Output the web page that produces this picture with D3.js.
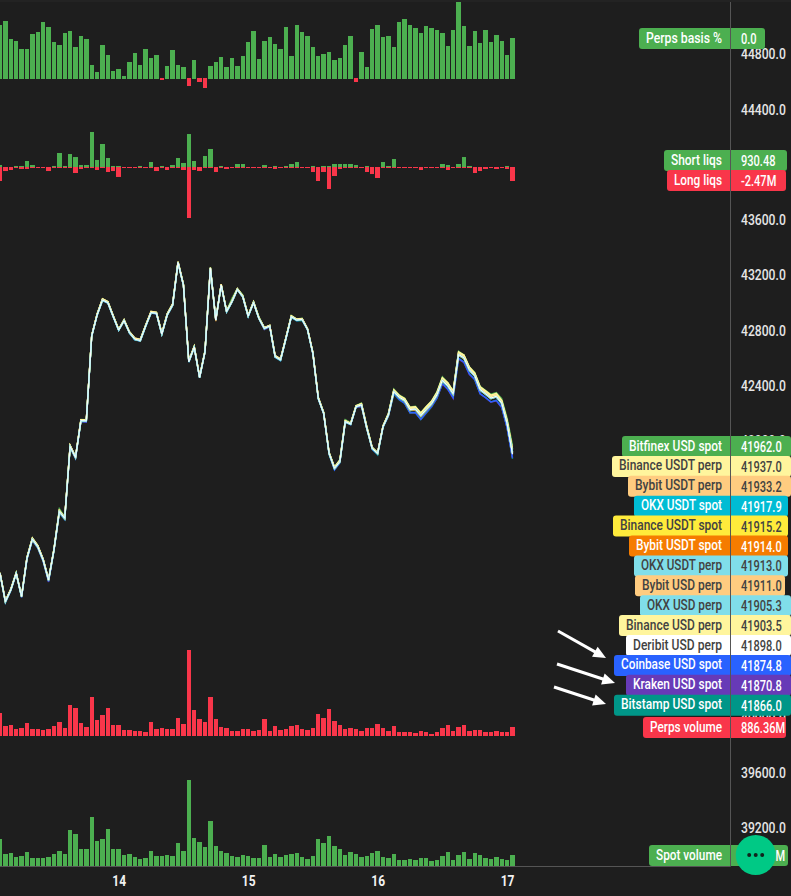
<!DOCTYPE html>
<html>
<head>
<meta charset="utf-8">
<script src="https://cdn.jsdelivr.net/npm/d3@7"></script>
<style>
  html, body { margin: 0; padding: 0; background: #1e1e1e; overflow: hidden; }
  svg { display: block; }
  text { font-family: Roboto, sans-serif; font-weight: 500; }
</style>
</head>
<body>
<div id="chart"></div>
<script>
// hourly bars, first one is 13 Dec 02:00
var hoursCount = 96;
var dayTicks = [14, 15, 16, 17];
// the other round prices sit fully behind the legend pills
var priceTicks = [39200, 39600, 40000, 42000, 42400, 42800, 43200, 43600, 44400, 44800];

// perps basis, thousandths of a percent
var basis = [54,58,40,38,30,30,45,47,57,52,37,34,
  46,48,32,43,40,14,7,34,24,8,10,3,
  17,26,14,30,21,24,-2,13,29,14,12,-8,
  19,-4,-10,13,17,22,12,21,13,23,37,48,
  20,38,42,35,30,52,23,54,47,43,32,23,
  25,27,19,21,34,43,-4,27,12,50,54,42,
  43,32,57,60,54,51,46,53,51,49,46,33,
  49,77,53,33,48,36,49,37,44,38,24,41];

// liquidations, millions
var shortLiqs = [.35,0,0,.18,.18,1.06,.35,0,0,0,.18,2.47,
  .18,2.29,1.76,.35,.35,6.18,1.24,4.06,1.59,.18,.18,0,
  0,0,.18,0,.88,0,.18,0,.35,1.59,.71,5.82,
  1.06,0,1.94,3.18,0,.18,0,0,.53,.53,0,0,
  0,.35,0,.18,0,.18,.53,.88,0,0,.18,0,
  .18,.18,.53,.53,.53,.53,.35,0,.18,0,0,.88,
  .18,1.41,0,0,0,0,0,0,0,0,.53,.35,
  0,.53,1.76,.18,0,0,0,0,0,0,.18,.00093];
var longLiqs = [2.47,.71,.53,.18,.35,.35,.18,.18,.18,.71,.18,.18,
  .18,.18,1.06,.35,.18,.18,.53,.18,.88,.71,1.76,.18,
  .18,.18,.18,.18,.18,.71,.18,.53,.18,.18,.53,9,
  .53,.71,.18,.18,.88,.18,.35,.18,.18,.18,.18,.18,
  .18,.18,.18,.35,.18,.18,.18,.18,.18,.18,.88,2.47,
  .88,3.88,1.59,.35,.18,.18,.18,.18,.88,1.24,1.94,.18,
  .18,.18,.18,.18,.18,.18,.53,.18,.18,.18,.18,.53,
  .18,.18,.18,.18,1.06,.71,.35,.18,.35,.18,.35,2.47];

// volumes, millions
var perpsVolume = [2266,985,1084,690,788,1281,690,690,591,690,985,1379,
  788,3054,2758,1281,886,3842,1576,2069,2758,1084,1084,591,
  591,493,493,394,1379,690,788,690,690,1773,1182,8471,
  2561,1675,1379,3842,1675,886,788,493,493,690,690,493,
  591,1675,493,985,591,690,985,1084,690,591,788,2167,
  1773,2660,1478,1084,690,788,690,493,788,788,1182,788,
  493,985,394,394,394,296,493,394,197,394,788,1084,
  493,886,1084,493,591,591,394,394,493,394,394,886];
var spotVolume = [1575,700,759,525,584,817,467,467,467,525,700,875,
  700,2101,1867,992,992,2859,1459,1575,2159,992,992,642,
  700,525,408,467,875,584,584,642,584,1342,875,5018,
  1634,1400,1109,2626,1167,875,759,584,525,642,584,467,
  467,1225,525,700,525,642,700,759,525,408,584,1575,
  1342,1751,1167,992,642,817,700,525,584,759,875,525,
  467,700,350,350,408,350,467,467,292,350,584,817,
  350,642,817,408,759,642,467,408,525,408,350,642];

// middle of the bundle of price lines
var priceMid = [41036,40831,40916,41036,40868,41145,41283,41229,41133,40988,41205,41483,
  41435,41954,41876,42142,42140,42755,42907,43015,42996,42895,42798,42866,
  42779,42731,42721,42827,42924,42919,42769,42907,42979,43286,43124,42569,
  42673,42455,42641,43244,42870,43124,42931,43003,43092,43039,42899,42996,
  42882,42810,42827,42605,42581,42737,42894,42870,42875,42803,42629,42303,
  42194,41905,41796,41845,42134,42117,42243,42255,42086,41941,41905,42098,
  42182,42351,42310,42286,42219,42223,42175,42219,42262,42327,42431,42392,
  42334,42617,42593,42508,42465,42363,42334,42303,42315,42267,42122,41915];

// each market's gap to priceMid, per hour
var bitfinexSpot = [6,8,6,8,6,8,10,10,8,6,8,22,
  10,10,6,8,8,6,8,10,8,6,6,8,
  6,8,8,6,8,8,8,10,10,8,6,8,
  10,6,14,10,8,6,8,24,6,14,8,8,
  12,6,6,8,6,8,10,8,8,6,8,8,
  10,8,12,14,16,10,8,14,16,8,6,8,
  14,20,18,20,22,24,24,26,24,26,28,26,
  24,28,24,24,26,28,28,30,30,34,40,47];
var binanceUsdtPerp = [4,6,5,4,5,6,8,8,6,4,5,8,
  6,8,5,6,8,4,6,8,6,5,4,6,
  5,7,7,5,7,6,6,8,7,6,5,6,
  6,5,4,6,5,4,6,6,5,6,5,6,
  5,5,4,7,7,5,6,6,5,4,6,6,
  6,6,8,10,7,5,6,9,9,6,5,6,
  12,14,14,16,18,20,22,24,20,20,22,22,
  20,22,24,20,22,24,24,24,24,22,24,22];
var bybitUsdtPerp = [5,6,6,5,6,6,9,9,7,5,6,9,
  7,9,6,7,9,5,7,10,7,6,5,7,
  6,9,9,6,9,7,7,9,8,7,6,7,
  7,6,5,5,6,5,5,7,6,7,6,7,
  6,6,5,8,8,6,7,7,6,5,7,7,
  7,7,9,11,8,6,7,10,10,7,6,7,
  10,13,15,15,19,18,20,22,20,19,20,24,
  19,20,22,22,20,22,22,22,22,20,20,18];
var okxUsdtSpot = [0,-2,-1,0,-1,-1,-3,-4,-3,-3,-2,-4,
  -4,-3,-3,-3,-3,0,-1,-2,-2,-1,-1,-1,
  -1,-1,-1,-1,-2,-2,-2,-1,-1,-1,0,-1,
  -1,0,0,-1,-1,-1,-1,-1,-1,-1,-1,-1,
  0,-2,-1,-1,-1,-1,-1,-1,-1,-1,-1,-1,
  -1,-3,-3,-3,-2,-1,-1,-2,-2,-3,-3,-1,
  -1,-3,-3,-4,-5,-4,-4,-4,-3,-3,-3,-2,
  -4,-2,-3,-3,-2,-2,-2,-3,-2,-2,0,3];
var binanceUsdtSpot = [0,-1,0,0,-1,0,-2,-3,-2,-2,-1,-2,
  -3,-2,-2,-2,-2,0,0,-1,-1,0,0,-1,
  0,-1,0,0,-1,-1,-1,0,-1,0,0,0,
  -1,0,0,-1,0,0,0,-1,0,0,0,-1,
  0,-1,0,-1,0,0,0,-1,0,0,0,0,
  0,-2,-2,-2,-1,0,0,-1,-1,-2,-2,0,
  -1,-2,-2,-3,-4,-3,-3,-3,-2,-2,-2,-1,
  -3,-1,-2,-2,-1,-1,-1,-2,-1,-1,0,0];
var bybitUsdtSpot = [1,0,0,1,0,1,-1,-2,-1,-1,0,-1,
  -2,-1,-1,-1,-1,1,1,1,0,1,1,-1,
  1,0,0,1,0,0,0,1,0,1,1,1,
  0,1,0,0,-8,1,0,1,1,0,1,0,
  1,0,1,0,1,1,1,0,1,1,1,1,
  1,-1,-1,-1,0,1,1,0,0,-1,-1,1,
  0,-1,-1,-2,-3,-2,-2,-2,-1,-1,-1,0,
  -2,0,-1,-1,0,0,0,-1,0,0,1,-1];
var okxUsdtPerp = [-1,0,-1,0,0,-1,0,0,0,-1,0,0,
  -1,0,-1,-1,-1,0,-1,-1,-1,-1,-1,0,
  -1,-1,-1,-1,-1,-1,-1,0,-1,0,-1,-1,
  0,-1,-1,0,0,-1,-1,0,-1,0,-1,-1,
  0,0,-1,-1,-1,-1,-1,0,-1,-1,-1,-1,
  0,-1,-1,-1,0,-1,-1,0,-1,-1,-1,-1,
  0,1,1,0,1,2,2,2,2,1,2,1,
  1,2,2,1,1,2,2,1,1,0,-1,-2];
var bybitUsdPerp = [3,5,4,3,4,5,7,7,6,3,4,7,
  5,7,4,5,7,3,5,8,6,4,3,5,
  4,8,8,4,8,5,5,8,7,5,4,5,
  5,4,3,3,4,3,3,4,3,4,3,4,
  4,3,3,7,7,3,4,3,3,2,3,4,
  4,4,6,8,6,3,3,7,7,5,3,4,
  6,8,8,10,12,11,14,18,12,10,12,16,
  14,14,16,14,14,14,14,14,12,10,6,-4];
var okxUsdPerp = [-1,-1,-2,-1,-1,-1,-1,-2,-1,-2,-1,-1,
  -2,-1,-2,-2,-2,-1,-2,-2,-2,-2,-1,-1,
  -2,-2,-1,-1,-2,-2,-2,-1,-2,-1,-2,-2,
  -1,-2,-2,-1,-1,-2,-2,-1,-1,-1,-2,-2,
  -1,-1,-2,-2,-2,-2,-2,-1,-2,-2,-2,-2,
  -1,-2,-2,-2,-1,-2,-2,-1,-2,-2,-2,-2,
  -1,-1,0,-1,0,1,1,1,1,0,1,0,
  0,1,1,0,0,1,0,0,0,-1,-3,-10];
var binanceUsdPerp = [2,3,3,2,3,3,5,6,4,2,3,5,
  4,5,3,4,6,2,4,6,4,3,2,4,
  3,5,5,3,5,4,4,6,5,4,3,4,
  4,3,2,4,3,2,4,4,3,4,3,4,
  3,3,2,5,5,3,4,4,3,2,4,4,
  4,4,5,7,5,3,4,6,6,4,3,4,
  7,9,9,11,13,12,14,16,13,12,14,15,
  12,13,14,13,13,14,14,14,14,12,8,-12];
var deribitUsdPerp = [0,1,0,0,1,0,1,1,0,0,1,1,
  0,1,0,0,1,0,0,1,0,0,0,1,
  0,1,1,0,1,0,0,1,1,0,0,0,
  1,0,0,1,0,0,1,1,0,1,0,0,
  0,0,0,1,1,0,1,0,0,0,1,0,
  1,1,1,1,1,0,0,1,1,0,0,1,
  2,2,2,3,4,3,4,4,3,3,4,3,
  3,4,4,3,3,4,4,3,3,2,0,-17];
var coinbaseSpot = [-3,-5,-4,-3,-4,-7,-7,-8,-9,-10,-5,-7,
  -7,-5,-6,-5,-6,-2,-2,-3,-3,-2,-3,-2,
  -2,-2,-2,-3,-4,-3,-3,-2,-3,-2,-2,-3,
  -2,-3,-2,-2,-2,-3,-2,-3,-2,-2,-3,-3,
  -2,-5,-4,-3,-3,-2,-3,-3,-4,-2,-3,-3,
  -2,-5,-12,-8,-3,-3,-3,-3,-3,-7,-5,-3,
  -6,-9,-13,-17,-19,-22,-22,-18,-15,-18,-16,-22,
  -24,-25,-26,-28,-24,-25,-24,-25,-26,-27,-30,-40];
var krakenSpot = [-4,-6,-5,-4,-5,-8,-8,-10,-11,-14,-6,-8,
  -8,-7,-8,-7,-10,-3,-3,-4,-4,-3,-3,-3,
  -3,-3,-3,-4,-3,-3,-4,-3,-3,-3,-3,-3,
  -3,-4,-3,-3,-3,-3,-3,-3,-3,-3,-3,-3,
  -3,-9,-6,-4,-3,-3,-3,-3,-4,-3,-4,-4,
  -3,-6,-7,-6,-4,-3,-3,-12,-4,-5,-6,-4,
  -8,-11,-14,-18,-20,-22,-24,-20,-18,-22,-24,-24,
  -32,-30,-32,-32,-26,-28,-26,-28,-30,-32,-34,-44];
var bitstampSpot = [-4,-9,-6,-5,-6,-7,-6,-9,-8,-9,-7,-12,
  -11,-9,-8,-6,-7,-4,-3,-4,-4,-3,-3,-4,
  -4,-6,-3,-3,-4,-3,-4,-3,-4,-3,-3,-4,
  -3,-4,-3,-3,-3,-3,-3,-3,-3,-3,-3,-3,
  -3,-6,-4,-5,-6,-6,-5,-7,-8,-4,-3,-3,
  -3,-8,-9,-7,-5,-4,-4,-10,-5,-6,-12,-4,
  -7,-16,-18,-20,-22,-24,-26,-24,-22,-25,-22,-20,
  -20,-24,-28,-24,-28,-26,-25,-26,-26,-28,-32,-49];

// legend rows, same order as on the axis
var marketNames = ["Bitfinex USD spot", "Binance USDT perp", "Bybit USDT perp", "OKX USDT spot", "Binance USDT spot", "Bybit USDT spot", "OKX USDT perp", "Bybit USD perp", "OKX USD perp", "Binance USD perp", "Deribit USD perp", "Coinbase USD spot", "Kraken USD spot", "Bitstamp USD spot"];
var marketLast = ["41962.0", "41937.0", "41933.2", "41917.9", "41915.2", "41914.0", "41913.0", "41911.0", "41905.3", "41903.5", "41898.0", "41874.8", "41870.8", "41866.0"];
var marketColors = ["#4caf50", "#fff59d", "#ffcc80", "#00bcd4", "#ffeb3b", "#f57c00", "#80deea", "#ffcc80", "#80deea", "#fff59d", "#ffffff", "#2962ff", "#673ab7", "#009688"];
var marketGaps = [bitfinexSpot, binanceUsdtPerp, bybitUsdtPerp, okxUsdtSpot, binanceUsdtSpot, bybitUsdtSpot, okxUsdtPerp, bybitUsdPerp, okxUsdPerp, binanceUsdPerp, deribitUsdPerp, coinbaseSpot, krakenSpot, bitstampSpot];
var darkText = ["Binance USDT perp", "Bybit USDT perp", "Binance USDT spot", "OKX USDT perp", "Bybit USD perp", "OKX USD perp", "Binance USD perp", "Deribit USD perp"];
// which line goes on top of which
var drawOrder = [0, 13, 12, 11, 3, 4, 5, 2, 7, 1, 9, 8, 6, 10];

// pill edges in the legend, the font here is wider than the original one
var rowLefts = [622, 612, 628, 634, 613, 629, 634, 635, 640, 619, 626, 614, 626, 614];
var rowRights = [791, 791, 791, 788, 788, 788, 788, 785, 791, 791, 791, 791, 791, 791];

var green = "#4caf50";
var red = "#f9364a";

var width = 791, height = 896;
var axisX = 730, axisY = 866;

var svg = d3.select("#chart").append("svg")
  .attr("width", width)
  .attr("height", height);

svg.append("rect").attr("width", width).attr("height", 2).attr("fill", "#232323");

var start = Date.UTC(2023, 11, 13, 2);
var hours = d3.range(hoursCount).map(function(i) { return new Date(start + i * 3600000); });

var x = d3.scaleUtc()
  .domain([hours[0], hours[hoursCount - 1]])
  .range([0, 512.5]);

var barHalf = 2.2;
function barLeft(i) { return Math.round(x(hours[i]) - barHalf); }
function barW(i) { return Math.round(x(hours[i]) + barHalf) - barLeft(i); }

// squeeze a text to look like the narrow original font
function squeeze(sel, ratio) {
  sel.each(function() {
    d3.select(this)
      .attr("textLength", this.getComputedTextLength() * ratio)
      .attr("lengthAdjust", "spacingAndGlyphs");
  });
}

// price axis goes under the legend pills
var y = d3.scaleLinear().domain([39200, 44800]).range([827, 53.5]);

var priceAxis = svg.append("g")
  .attr("transform", "translate(741,1)")
  .call(d3.axisRight(y).tickValues(priceTicks).tickSize(0).tickPadding(0).tickFormat(d3.format(".1f")));
priceAxis.select(".domain").remove();
priceAxis.selectAll("text").attr("fill", "#e6e6e6").attr("font-size", 13.8);
squeeze(priceAxis.selectAll("text"), 0.88);

// frame
svg.append("line").attr("x1", axisX + 0.5).attr("x2", axisX + 0.5).attr("y1", 2).attr("y2", axisY + 0.5).attr("stroke", "#555");
svg.append("line").attr("x1", 0).attr("x2", axisX + 0.5).attr("y1", axisY + 0.5).attr("y2", axisY + 0.5).attr("stroke", "#555");

var timeAxis = svg.append("g")
  .attr("transform", "translate(0,875)")
  .call(d3.axisBottom(x)
    .tickValues(dayTicks.map(function(d) { return new Date(Date.UTC(2023, 11, d)); }))
    .tickSize(0).tickPadding(0)
    .tickFormat(d3.utcFormat("%-d")));
timeAxis.select(".domain").remove();
timeAxis.selectAll("text").attr("fill", "#f2f2f2").attr("font-size", 15).style("font-weight", 700);
squeeze(timeAxis.selectAll("text"), 0.8);

// basis panel
var yBasis = d3.scaleLinear().domain([0, 77]).range([79, 2]);
svg.append("g").selectAll("rect")
  .data(basis)
  .join("rect")
    .attr("x", function(d, i) { return barLeft(i); })
    .attr("width", function(d, i) { return barW(i); })
    .attr("y", function(d) { return d >= 0 ? yBasis(d) : yBasis(0) - 1; })
    .attr("height", function(d) { return Math.abs(yBasis(d) - yBasis(0)); })
    .attr("fill", function(d) { return d >= 0 ? green : red; });

// liquidations panel
var yLiqs = d3.scaleLinear().domain([0, 9]).range([167, 218]);
svg.append("g").selectAll("rect")
  .data(shortLiqs)
  .join("rect")
    .attr("x", function(d, i) { return barLeft(i); })
    .attr("width", function(d, i) { return barW(i); })
    .attr("y", function(d) { return 2 * yLiqs(0) - yLiqs(d); })
    .attr("height", function(d) { return yLiqs(d) - yLiqs(0); })
    .attr("fill", green);
svg.append("g").selectAll("rect")
  .data(longLiqs)
  .join("rect")
    .attr("x", function(d, i) { return barLeft(i); })
    .attr("width", function(d, i) { return barW(i); })
    .attr("y", yLiqs(0))
    .attr("height", function(d) { return yLiqs(d) - yLiqs(0); })
    .attr("fill", red);

// volume panels
var yPerps = d3.scaleLinear().domain([0, 8471]).range([736, 650]);
svg.append("g").selectAll("rect")
  .data(perpsVolume)
  .join("rect")
    .attr("x", function(d, i) { return barLeft(i); })
    .attr("width", function(d, i) { return barW(i); })
    .attr("y", function(d) { return yPerps(d); })
    .attr("height", function(d) { return yPerps(0) - yPerps(d); })
    .attr("fill", red);

var ySpot = d3.scaleLinear().domain([0, 5018]).range([866, 780]);
svg.append("g").selectAll("rect")
  .data(spotVolume)
  .join("rect")
    .attr("x", function(d, i) { return barLeft(i); })
    .attr("width", function(d, i) { return barW(i); })
    .attr("y", function(d) { return ySpot(d); })
    .attr("height", function(d) { return ySpot(0) - ySpot(d); })
    .attr("fill", green);

// price lines, white one thinner so the cyan shows round it
var line = d3.line()
  .x(function(d, i) { return x(hours[i]); })
  .y(function(d) { return y(d); });

drawOrder.forEach(function(m) {
  var values = priceMid.map(function(p, i) { return p + marketGaps[m][i]; });
  svg.append("path")
    .datum(values)
    .attr("fill", "none")
    .attr("stroke", marketColors[m])
    .attr("stroke-width", marketNames[m] == "Deribit USD perp" ? 1 : 1.4)
    .attr("d", line);
});

// label + value pill on the axis
function pill(name, value, color, top, textColor, h, left, right) {
  var g = svg.append("g");
  var r = 3;
  g.append("path").attr("fill", color)
    .attr("d", "M730," + top + "H" + (left + r) + "Q" + left + "," + top + " " + left + "," + (top + r)
      + "V" + (top + h - r) + "Q" + left + "," + (top + h) + " " + (left + r) + "," + (top + h) + "H730Z");
  g.append("path").attr("fill", color)
    .attr("d", "M731," + top + "H" + (right - r) + "Q" + right + "," + top + " " + right + "," + (top + r)
      + "V" + (top + h - r) + "Q" + right + "," + (top + h) + " " + (right - r) + "," + (top + h) + "H731Z");
  g.append("text")
    .attr("x", left + 7).attr("y", top + h / 2 - 1)
    .attr("dominant-baseline", "central")
    .attr("font-size", 14).attr("fill", textColor)
    .attr("textLength", 722 - left - 7).attr("lengthAdjust", "spacingAndGlyphs")
    .text(name);
  var valueText = g.append("text")
    .attr("x", 741).attr("y", top + h / 2 + 0.5)
    .attr("dominant-baseline", "central")
    .attr("font-size", 13.8).attr("fill", textColor)
    .text(value);
  valueText.attr("textLength", valueText.node().getComputedTextLength() * 0.8).attr("lengthAdjust", "spacingAndGlyphs");
}

pill("Perps basis %", "0.0", green, 28, "#ffffff", 21, 639, 765);
pill("Short liqs", "930.48", green, 150, "#ffffff", 21, 664, 787);
pill("Long liqs", "-2.47M", red, 170, "#ffffff", 21, 667, 786);
marketNames.forEach(function(name, i) {
  var textColor = darkText.indexOf(name) >= 0 ? "#424242" : "#ffffff";
  pill(name, marketLast[i], marketColors[i], 436 + i * 19.9, textColor, 21, rowLefts[i], rowRights[i]);
});
pill("Perps volume", "886.36M", red, 717, "#ffffff", 21, 643, 786);
pill("Spot volume", "641.91M", green, 845, "#ffffff", 21, 649, 788);

// the three hand drawn arrows
var arrows = [[558, 631, 606, 658], [557, 664, 615, 683], [554, 687, 606, 704]];
arrows.forEach(function(a) {
  var angle = Math.atan2(a[3] - a[1], a[2] - a[0]);
  var len = 14, spread = 0.42;
  svg.append("line")
    .attr("x1", a[0]).attr("y1", a[1])
    .attr("x2", a[2] - 8 * Math.cos(angle)).attr("y2", a[3] - 8 * Math.sin(angle))
    .attr("stroke", "#ffffff").attr("stroke-width", 3);
  svg.append("polygon")
    .attr("points", [
      [a[2], a[3]],
      [a[2] - len * Math.cos(angle - spread), a[3] - len * Math.sin(angle - spread)],
      [a[2] - len * Math.cos(angle + spread), a[3] - len * Math.sin(angle + spread)]
    ].join(" "))
    .attr("fill", "#ffffff");
});

// round menu button
svg.append("circle").attr("cx", 755.7).attr("cy", 855).attr("r", 20).attr("fill", "#00c985");
svg.append("g").selectAll("circle")
  .data([-6.5, 0, 6.5])
  .join("circle")
    .attr("cx", function(d) { return 755.7 + d; })
    .attr("cy", 855)
    .attr("r", 2)
    .attr("fill", "#10231c");
</script>
</body>
</html>
